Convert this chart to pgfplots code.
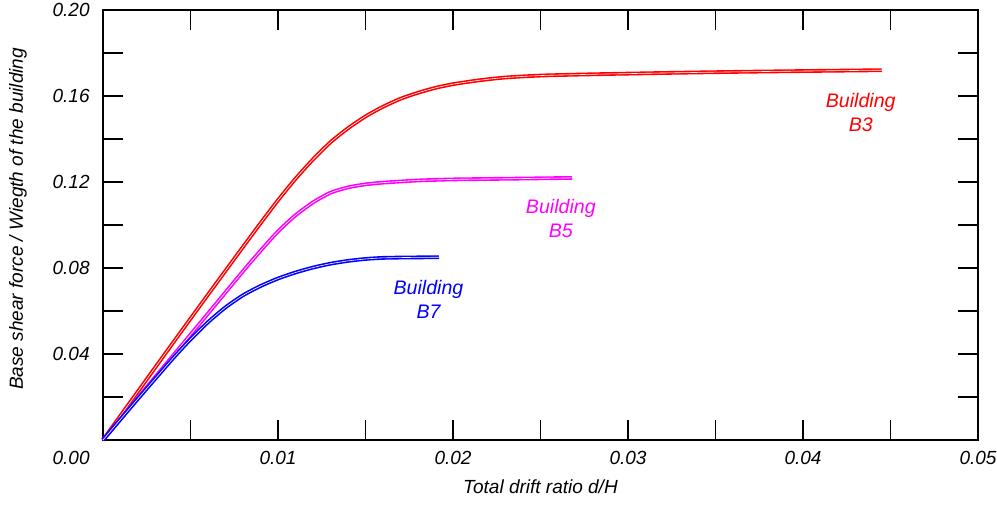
\documentclass[border=0pt]{standalone}
\usepackage{fontspec}
\setmainfont{Liberation Sans}
\usepackage{pgfplots}
\pgfplotsset{compat=1.18}
\definecolor{mag}{RGB}{255,0,255}
\definecolor{rd}{RGB}{255,0,0}
\definecolor{bl}{RGB}{0,0,255}

\begin{document}
\begin{tikzpicture}
% page = 997x504 px at 0.5pt per px, axis box SW at (0,0)
\path[use as bounding box] (-51.5pt,-32pt) rectangle (447pt,220pt);
\begin{axis}[
    at={(0,0)}, anchor=south west,
    scale only axis,
    width=437.5pt, height=215pt,
    xmin=0, xmax=0.05,
    ymin=0, ymax=0.2,
    xtick={0.01,0.02,0.03,0.04,0.05},
    minor xtick={0.005,0.015,0.025,0.035,0.045},
    ytick={0.04,0.08,0.12,0.16,0.20},
    minor ytick={0.02,0.06,0.10,0.14,0.18},
    scaled ticks=false,
    tick align=inside,
    tick pos=both,
    major tick length=10pt,
    minor tick length=10pt,
    every tick/.style={black, line width=0.7pt},
    axis line style={line width=1pt},
    /pgf/number format/assume math mode=true,
    /pgf/number format/.cd, fixed, fixed zerofill, precision=2, /pgfplots/.cd,
    tick label style={font=\fontsize{9.5}{11}\selectfont\itshape, inner sep=0pt},
    xticklabel style={anchor=base, yshift=-12.5pt},
    yticklabel style={anchor=east, xshift=-6.5pt},
    xlabel={Total drift ratio d/H},
    ylabel={Base shear force / Wiegth of the building},
    every axis x label/.style={at={(axis description cs:0.5,-0.109)}, anchor=center,
        font=\fontsize{9.5}{11}\selectfont\itshape},
    every axis y label/.style={at={(axis description cs:-0.0971,0.514)}, anchor=center, rotate=90,
        font=\fontsize{9.5}{11}\selectfont\itshape},
    every axis plot/.append style={line width=0.8pt, double distance=0.3pt, double=white, smooth, tension=0.4},
    clip=false,
]
% Building B3
\addplot[rd] coordinates {
    (0,0) (0.002,0.0226) (0.004,0.0452) (0.006,0.0676) (0.008,0.0898)
    (0.009,0.1008) (0.010,0.1115) (0.011,0.1215) (0.012,0.1305) (0.013,0.1385)
    (0.014,0.1450) (0.015,0.1505) (0.016,0.1550) (0.017,0.1587) (0.018,0.1615)
    (0.019,0.1638) (0.020,0.1655) (0.0215,0.1673) (0.023,0.1686) (0.025,0.1695)
    (0.028,0.1701) (0.032,0.1707) (0.036,0.1712) (0.040,0.1716) (0.0445,0.1720)
};
% Building B5
\addplot[mag] coordinates {
    (0,0) (0.002,0.0196) (0.004,0.0392) (0.006,0.0588) (0.008,0.0785)
    (0.009,0.0880) (0.010,0.0970) (0.011,0.1045) (0.012,0.1105) (0.013,0.1150)
    (0.014,0.1175) (0.015,0.1189) (0.016,0.1197) (0.018,0.1207) (0.020,0.1212)
    (0.023,0.1215) (0.0268,0.1219)
};
% Building B7
\addplot[bl] coordinates {
    (0,0) (0.002,0.0192) (0.004,0.0380) (0.005,0.0468) (0.006,0.0548)
    (0.007,0.0617) (0.008,0.0673) (0.009,0.0716) (0.010,0.0751) (0.011,0.0779)
    (0.012,0.0802) (0.013,0.0820) (0.014,0.0833) (0.015,0.0842) (0.016,0.0847)
    (0.0175,0.0849) (0.0192,0.0850)
};
\node[font=\fontsize{9.5}{11}\selectfont\itshape, inner sep=0pt, anchor=base east, xshift=-6.5pt, yshift=-12.5pt] at (axis cs:0,0) {0.00};
\node[rd, align=center, font=\fontsize{9.8}{12}\selectfont\itshape] at (axis cs:0.0433,0.1522) {Building\\B3};
\node[mag, align=center, font=\fontsize{9.8}{12}\selectfont\itshape] at (axis cs:0.02616,0.1029) {Building\\B5};
\node[bl, align=center, font=\fontsize{9.8}{12}\selectfont\itshape] at (axis cs:0.0186,0.0653) {Building\\B7};
\end{axis}
\end{tikzpicture}
\end{document}
